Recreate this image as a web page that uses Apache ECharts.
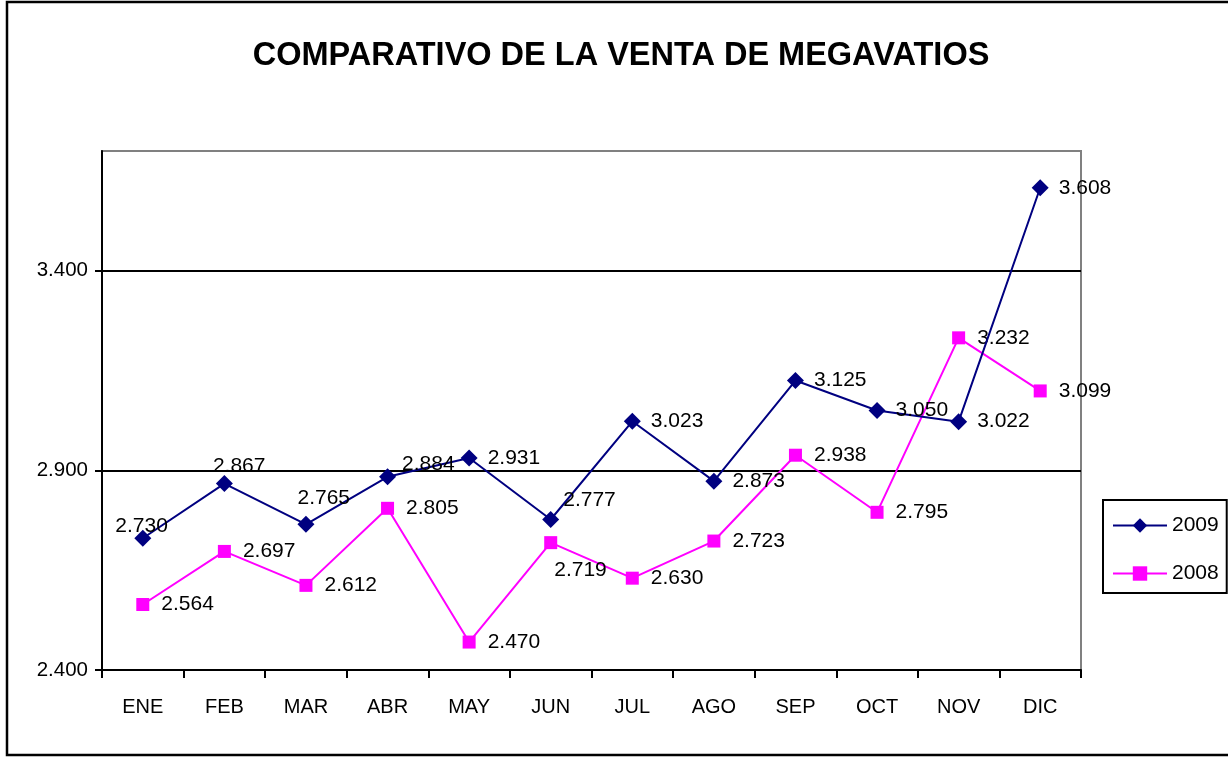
<!DOCTYPE html>
<html>
<head>
<meta charset="utf-8">
<script src="https://cdn.jsdelivr.net/npm/echarts@6/dist/echarts.min.js"></script>
<style>
html,body{margin:0;padding:0;background:#fff;}
#chart{width:1228px;height:757px;}
</style>
</head>
<body>
<div id="chart"></div>
<script>
var months = ['ENE','FEB','MAR','ABR','MAY','JUN','JUL','AGO','SEP','OCT','NOV','DIC'];
var sales2009 = [2730, 2867, 2765, 2884, 2931, 2777, 3023, 2873, 3125, 3050, 3022, 3608];
var sales2008 = [2564, 2697, 2612, 2805, 2470, 2719, 2630, 2723, 2938, 2795, 3232, 3099];
var yTicks = [2400, 2900, 3400];

// label placement tweaks (style only)
var offsets2009 = {0: [-46, -12], 1: [-30, -17], 2: [-27, -26], 3: [-4, -13], 5: [-6, -19]};
var offsets2008 = {5: [-15, 28]};

var FONT = "'Liberation Sans',Arial,sans-serif";

function fmt(v) {
  return (v / 1000).toFixed(3);
}
function buildData(values, offs) {
  return values.map(function (v, i) {
    var item = { value: v };
    if (offs[i]) item.label = { offset: offs[i] };
    return item;
  });
}

var chart = echarts.init(document.getElementById('chart'), null, { renderer: 'canvas' });
chart.setOption({
  backgroundColor: '#ffffff',
  animation: false,
  textStyle: { fontFamily: FONT },
  title: {
    text: 'COMPARATIVO DE LA VENTA DE MEGAVATIOS',
    left: 616,
    textAlign: 'center',
    top: 35,
    textStyle: { fontFamily: FONT, fontWeight: 'bold', fontSize: 32.5, color: '#000' }
  },
  graphic: [{
    type: 'rect',
    shape: { x: 7, y: 2, width: 1240, height: 753 },
    style: { fill: 'none', stroke: '#000', lineWidth: 2.5 },
    silent: true
  }],
  legend: {
    orient: 'vertical',
    left: 1103,
    top: 500,
    padding: [15, 8, 9, 9],
    itemGap: 27,
    itemWidth: 54,
    itemHeight: 18,
    borderColor: '#000',
    borderWidth: 2,
    textStyle: { fontFamily: FONT, fontSize: 21, color: '#000' },
    data: ['2009', '2008']
  },
  grid: {
    left: 102, top: 151, right: 147, bottom: 87,
    show: true, borderColor: '#808080', borderWidth: 2, backgroundColor: 'transparent'
  },
  xAxis: {
    type: 'category',
    data: months,
    boundaryGap: true,
    axisLine: { lineStyle: { color: '#000', width: 2 } },
    axisTick: { show: true, length: 8, lineStyle: { color: '#000', width: 2 } },
    axisLabel: { color: '#000', fontFamily: FONT, fontSize: 20, margin: 27 },
    splitLine: { show: false }
  },
  yAxis: {
    type: 'value',
    min: 2400,
    max: 3700,
    axisLine: { show: true, lineStyle: { color: '#000', width: 2 } },
    axisTick: { show: true, length: 7, customValues: yTicks, lineStyle: { color: '#000', width: 2 } },
    axisLabel: {
      color: '#000', fontFamily: FONT, fontSize: 20.5, margin: 14,
      customValues: yTicks,
      formatter: function (v) { return fmt(v); }
    },
    splitLine: { show: true, showMinLine: false, lineStyle: { color: '#000', width: 2 } }
  },
  series: [{
    name: '2009',
    type: 'line',
    data: buildData(sales2009, offsets2009),
    symbol: 'diamond',
    symbolSize: 17,
    itemStyle: { color: '#000080' },
    lineStyle: { color: '#000080', width: 2 },
    label: {
      show: true, position: 'right', distance: 10,
      color: '#000', fontFamily: FONT, fontSize: 21,
      formatter: function (p) { return fmt(p.value); }
    },
    z: 3
  }, {
    name: '2008',
    type: 'line',
    data: buildData(sales2008, offsets2008),
    symbol: 'rect',
    symbolSize: 13,
    itemStyle: { color: '#FF00FF' },
    lineStyle: { color: '#FF00FF', width: 2 },
    label: {
      show: true, position: 'right', distance: 12,
      color: '#000', fontFamily: FONT, fontSize: 21,
      formatter: function (p) { return fmt(p.value); }
    },
    z: 2
  }]
});
</script>
</body>
</html>
